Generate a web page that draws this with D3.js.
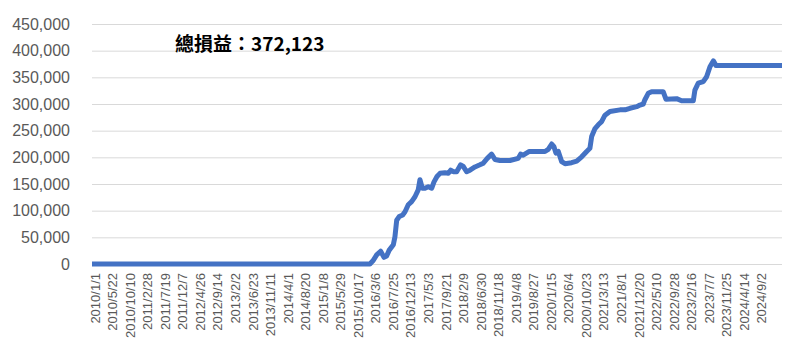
<!DOCTYPE html>
<meta charset="utf-8">
<svg width="785" height="345"></svg>
<style>
	body { margin: 0; background: #fff; }
	.tick-y { font-family: "Liberation Sans", Arial, sans-serif; font-size: 16px; fill: #595959; }
	.tick-x { font-family: "Liberation Sans", Arial, sans-serif; font-size: 13px; fill: #595959; }
	.grid line { stroke: #d9d9d9; stroke-width: 1; }
</style>
<script src="https://cdn.jsdelivr.net/npm/d3@7"></script>
<script>

// cumulative profit
var dates = [
	"2010/1/1", "2016/2/13", "2016/3/8", "2016/4/7", "2016/5/9", "2016/6/5", "2016/6/26",
	"2016/7/17", "2016/8/19", "2016/9/1", "2016/9/15", "2016/10/6", "2016/11/2", "2016/11/21",
	"2016/12/17", "2017/1/13", "2017/2/9", "2017/3/7", "2017/3/21", "2017/4/9", "2017/4/30",
	"2017/5/27", "2017/6/23", "2017/7/12", "2017/8/5", "2017/8/29", "2017/10/8", "2017/11/4",
	"2017/11/23", "2017/12/14", "2018/1/10", "2018/2/11", "2018/3/4", "2018/3/31", "2018/4/27",
	"2018/6/6", "2018/7/16", "2018/8/12", "2018/9/13", "2018/10/18", "2018/11/14", "2018/12/24",
	"2019/3/14", "2019/5/20", "2019/6/8", "2019/6/29", "2019/8/17", "2019/12/21", "2020/1/16",
	"2020/2/13", "2020/3/2", "2020/3/18", "2020/4/6", "2020/5/3", "2020/5/30", "2020/7/22",
	"2020/9/1", "2020/10/11", "2020/11/20", "2020/12/16", "2020/12/30", "2021/1/26", "2021/2/21",
	"2021/3/20", "2021/4/16", "2021/5/26", "2021/8/15", "2021/9/24", "2021/11/3", "2021/12/27",
	"2022/1/22", "2022/2/18", "2022/3/3", "2022/3/30", "2022/4/26", "2022/7/28", "2022/8/19",
	"2022/11/13", "2022/12/23", "2023/3/27", "2023/4/9", "2023/5/6", "2023/6/15", "2023/7/12",
	"2023/8/8", "2023/9/5", "2023/9/25", "2025/3/9"
];
var profit = [
	0, 0, 6000, 17000, 24000, 12500, 15000,
	26000, 36000, 51000, 82000, 89000, 92000, 98000,
	111000, 117000, 126000, 139000, 158000, 142000, 142000,
	145000, 142000, 154000, 164000, 170000, 171000, 170000,
	176000, 173000, 173000, 186000, 183000, 173000, 176000,
	182000, 186000, 189000, 198000, 206000, 196000, 194000,
	194000, 198000, 206000, 204000, 211000, 211000, 215000,
	225000, 220000, 208000, 211000, 192000, 188000, 190000,
	193000, 201000, 211000, 217000, 239000, 254000, 261000,
	267000, 279000, 286000, 289000, 289000, 292000, 295000,
	298000, 300000, 308000, 320000, 323000, 323000, 309000,
	310000, 306000, 306000, 326000, 339000, 342000, 351000,
	370000, 381000, 372123, 372123
];
var yTicks = [0, 50000, 100000, 150000, 200000, 250000, 300000, 350000, 400000, 450000];
var xTickLabels = [
	"2010/1/1", "2010/5/22", "2010/10/10", "2011/2/28", "2011/7/19", "2011/12/7", "2012/4/26",
	"2012/9/14", "2013/2/2", "2013/6/23", "2013/11/11", "2014/4/1", "2014/8/20", "2015/1/8",
	"2015/5/29", "2015/10/17", "2016/3/6", "2016/7/25", "2016/12/13", "2017/5/3", "2017/9/21",
	"2018/2/9", "2018/6/30", "2018/11/18", "2019/4/8", "2019/8/27", "2020/1/15", "2020/6/4",
	"2020/10/23", "2021/3/13", "2021/8/1", "2021/12/20", "2022/5/10", "2022/9/28", "2023/2/16",
	"2023/7/7", "2023/11/25", "2024/4/14", "2024/9/2"
];
var totalLabel = "總損益：372,123";

var parseDate = d3.timeParse("%Y/%m/%d");
var data = dates.map(function (d, i) {
	return { date: parseDate(d), value: profit[i] };
});

var svg = d3.select("svg");
var x = d3.scaleTime()
	.domain([parseDate("2010/1/1"), parseDate("2025/3/9")])
	.range([92, 782]);
var y = d3.scaleLinear()
	.domain([0, 450000])
	.range([264, 24]);

// gridlines
svg.append("g")
	.attr("class", "grid")
	.selectAll("line")
	.data(yTicks)
	.enter().append("line")
	.attr("x1", x.range()[0])
	.attr("x2", x.range()[1])
	.attr("y1", function (d) { return y(d) + 0.5; })
	.attr("y2", function (d) { return y(d) + 0.5; });

// y labels
svg.append("g")
	.selectAll("text")
	.data(yTicks)
	.enter().append("text")
	.attr("class", "tick-y")
	.attr("x", 70)
	.attr("y", function (d) { return y(d); })
	.attr("dy", "0.36em")
	.attr("text-anchor", "end")
	.text(d3.format(","));

// x labels, rotated
svg.append("g")
	.selectAll("text")
	.data(xTickLabels)
	.enter().append("text")
	.attr("class", "tick-x")
	.attr("transform", function (d) {
		return "translate(" + (x(parseDate(d)) + 3) + ",273) rotate(-90)";
	})
	.attr("dy", "0.36em")
	.attr("text-anchor", "end")
	.text(function (d) { return d; });

var line = d3.line()
	.x(function (d) { return x(d.date); })
	.y(function (d) { return y(d.value); });

svg.append("path")
	.datum(data)
	.attr("fill", "none")
	.attr("stroke", "#4472c4")
	.attr("stroke-width", 5)
	.attr("stroke-linejoin", "round")
	.attr("d", line);

svg.append("text")
	.attr("x", 175)
	.attr("y", 51)
	.attr("font-family", "'Noto Sans CJK TC', sans-serif")
	.attr("font-weight", "bold")
	.attr("font-size", 19)
	.attr("fill", "#000")
	.text(totalLabel);

</script>
